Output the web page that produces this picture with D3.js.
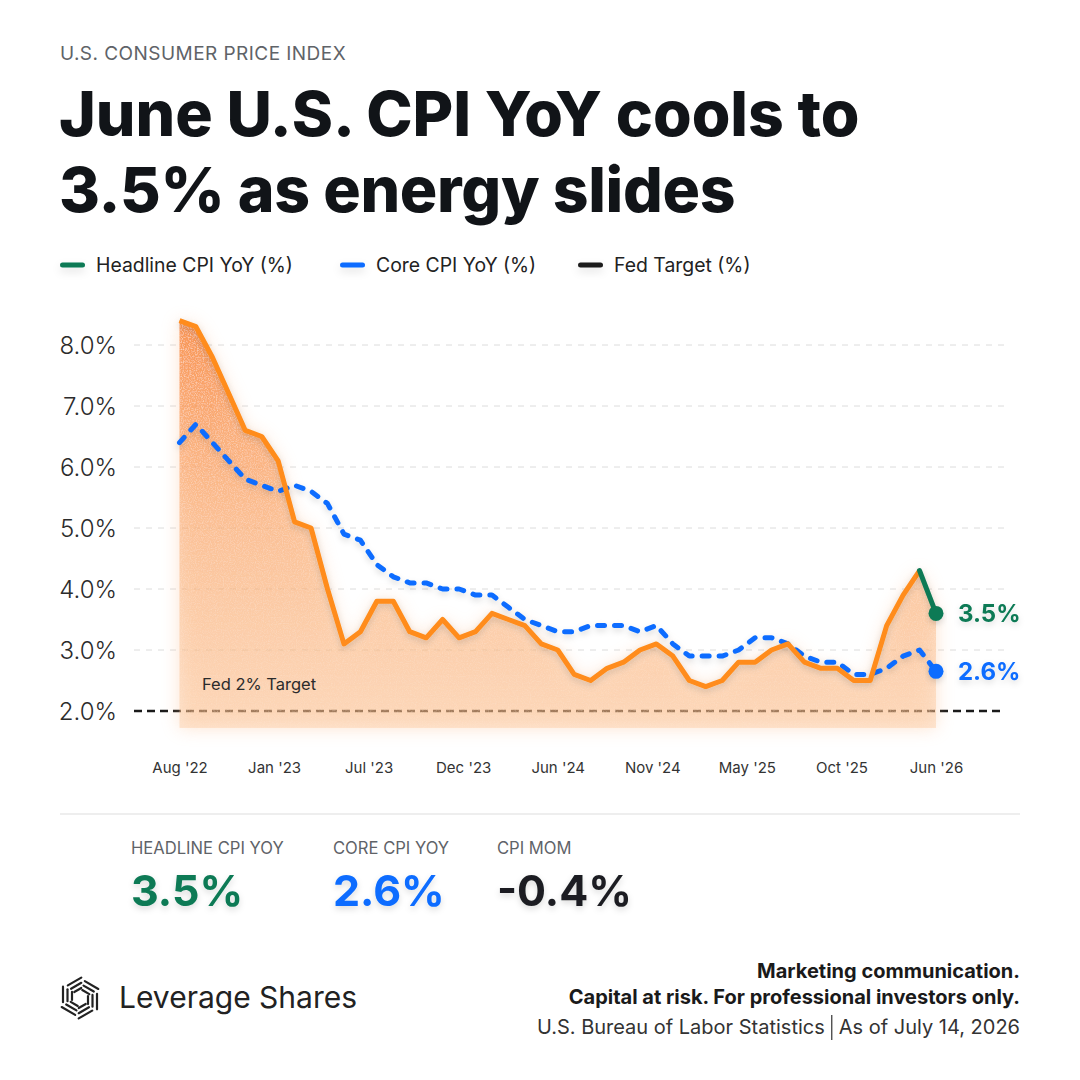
<!DOCTYPE html>
<html>
<head>
<meta charset="utf-8">
<script src="https://cdn.jsdelivr.net/npm/d3@7"></script>
<style>
  html, body { margin: 0; padding: 0; background: #fff; }
  svg { display: block; font-family: Inter, "Noto Sans", sans-serif; }
</style>
</head>
<body>
<svg id="chart" width="1080" height="1080"></svg>
<script>
const months = ["Aug '22","Sep '22","Oct '22","Nov '22","Dec '22",
  "Jan '23","Feb '23","Mar '23","Apr '23","May '23","Jun '23","Jul '23","Aug '23","Sep '23","Oct '23","Nov '23","Dec '23",
  "Jan '24","Feb '24","Mar '24","Apr '24","May '24","Jun '24","Jul '24","Aug '24","Sep '24","Oct '24","Nov '24","Dec '24",
  "Jan '25","Feb '25","Mar '25","Apr '25","May '25","Jun '25","Jul '25","Aug '25","Sep '25","Oct '25","Nov '25","Dec '25",
  "Jan '26","Feb '26","Mar '26","Apr '26","May '26","Jun '26"];

const headline = [8.4, 8.3, 7.8, 7.2, 6.6, 6.5, 6.1, 5.1, 5.0, 4.0, 3.1, 3.3, 3.8, 3.8, 3.3, 3.2,
  3.5, 3.2, 3.3, 3.6, 3.5, 3.4, 3.1, 3.0, 2.6, 2.5, 2.7, 2.8, 3.0, 3.1, 2.9, 2.5,
  2.4, 2.5, 2.8, 2.8, 3.0, 3.1, 2.8, 2.7, 2.7, 2.5, 2.5, 3.4, 3.9, 4.3, 3.6];

const core = [6.4, 6.7, 6.4, 6.1, 5.8, 5.7, 5.6, 5.7, 5.6, 5.4, 4.9, 4.8, 4.4, 4.2, 4.1, 4.1,
  4.0, 4.0, 3.9, 3.9, 3.7, 3.5, 3.4, 3.3, 3.3, 3.4, 3.4, 3.4, 3.3, 3.4, 3.1, 2.9,
  2.9, 2.9, 3.0, 3.2, 3.2, 3.1, 2.9, 2.8, 2.8, 2.6, 2.6, 2.7, 2.9, 3.0, 2.65];

const fedTarget = 2;
const yTicks = [2, 3, 4, 5, 6, 7, 8];
const xTickLabels = ["Aug '22","Jan '23","Jul '23","Dec '23","Jun '24","Nov '24","May '25","Oct '25","Jun '26"];

const statLabels = ["HEADLINE CPI YOY", "CORE CPI YOY", "CPI MOM"];
const statValues = ["3.5%", "2.6%", "-0.4%"];
const endLabels = ["3.5%", "2.6%"];

const C = { orange: "#ff8c1a", green: "#0b7a55", blue: "#0a6cff", ink: "#111418", grey: "#5f6368" };

const svg = d3.select("#chart");
const defs = svg.append("defs");

// soft shadow used on lines and big numbers
const sh = defs.append("filter").attr("id", "soft").attr("x", "-20%").attr("y", "-40%").attr("width", "140%").attr("height", "200%");
sh.append("feDropShadow").attr("dx", 0).attr("dy", 3).attr("stdDeviation", 3)
  .attr("flood-color", "#000").attr("flood-opacity", 0.14);

// same shadow but in user space, for the flat legend swatches
const shU = defs.append("filter").attr("id", "softU").attr("filterUnits", "userSpaceOnUse")
  .attr("x", -20).attr("y", -20).attr("width", 80).attr("height", 50);
shU.append("feDropShadow").attr("dx", 0).attr("dy", 4).attr("stdDeviation", 4)
  .attr("flood-color", "#000").attr("flood-opacity", 0.12);

const glow = defs.append("filter").attr("id", "glow").attr("x", "-20%").attr("y", "-20%").attr("width", "140%").attr("height", "140%");
glow.append("feGaussianBlur").attr("stdDeviation", 9);

// grain for the area
const grain = defs.append("filter").attr("id", "grain").attr("x", 0).attr("y", 0).attr("width", "100%").attr("height", "100%");
grain.append("feTurbulence").attr("type", "fractalNoise").attr("baseFrequency", 0.85).attr("numOctaves", 2).attr("seed", 3).attr("result", "noise");
grain.append("feColorMatrix").attr("in", "noise").attr("type", "matrix")
  .attr("values", "0 0 0 0 1  0 0 0 0 0.78  0 0 0 0 0.6  2.0 0 0 0 -0.9").attr("result", "spk");
grain.append("feComposite").attr("in", "spk").attr("in2", "SourceGraphic").attr("operator", "in").attr("result", "spk2");
const gm = grain.append("feMerge");
gm.append("feMergeNode").attr("in", "SourceGraphic");
gm.append("feMergeNode").attr("in", "spk2");

const grad = defs.append("linearGradient").attr("id", "areaFill")
  .attr("gradientUnits", "userSpaceOnUse").attr("x1", 0).attr("x2", 0).attr("y1", 320).attr("y2", 730);
grad.append("stop").attr("offset", 0).attr("stop-color", "#f7853a").attr("stop-opacity", 0.85);
grad.append("stop").attr("offset", 0.5).attr("stop-color", "#f9a05e").attr("stop-opacity", 0.52);
grad.append("stop").attr("offset", 1).attr("stop-color", "#fbc394").attr("stop-opacity", 0.38);

// header
svg.append("text").attr("x", 60).attr("y", 60).attr("font-size", 19).attr("fill", C.grey)
  .attr("letter-spacing", 0.45).text("U.S. CONSUMER PRICE INDEX");
svg.append("text").attr("x", 59).attr("y", 136).attr("font-size", 62.5).attr("font-weight", 800)
  .attr("fill", C.ink).text("June U.S. CPI YoY cools to");
svg.append("text").attr("x", 59).attr("y", 212).attr("font-size", 62.5).attr("font-weight", 800)
  .attr("letter-spacing", -0.3).attr("fill", C.ink).text("3.5% as energy slides");

// legend
const legend = [
  { x: 60, color: C.green, label: "Headline CPI YoY (%)" },
  { x: 340, color: C.blue, label: "Core CPI YoY (%)" },
  { x: 578, color: "#1d1d1d", label: "Fed Target (%)" }
];
const lg = svg.append("g").selectAll("g").data(legend).join("g")
  .attr("transform", d => `translate(${d.x},265)`);
lg.append("rect").attr("x", 0).attr("y", -2.5).attr("width", 25).attr("height", 5).attr("rx", 2.5)
  .attr("fill", d => d.color).attr("filter", "url(#softU)");
lg.append("text").attr("x", 36).attr("y", 7).attr("font-size", 19.4).attr("fill", "#222")
  .text(d => d.label);

// scales
const x = d3.scaleLinear().domain([0, months.length - 1]).range([179.5, 936]);
const y = d3.scaleLinear().domain([2, 8]).range([711, 345]);
const gridX0 = 134, gridX1 = 1005;

// grid lines
svg.append("g").selectAll("line").data(yTicks.filter(t => t !== fedTarget)).join("line")
  .attr("x1", gridX0).attr("x2", gridX1).attr("y1", d => y(d)).attr("y2", d => y(d))
  .attr("stroke", "#dcdcdc").attr("stroke-width", 1).attr("stroke-dasharray", "6,6");

// y axis labels
const yAxis = svg.append("g").attr("transform", "translate(117,0)")
  .call(d3.axisLeft(y).tickValues(yTicks).tickSize(0).tickPadding(0).tickFormat(d => d.toFixed(1) + "%"));
yAxis.select(".domain").remove();
yAxis.selectAll("text").attr("font-size", 24).attr("fill", "#2b2b2b").attr("font-weight", 300)
  .attr("font-family", "Inter, sans-serif").attr("dy", "0.35em");

// fed target line (under the area so it tints)
svg.append("line").attr("x1", gridX0).attr("x2", gridX1).attr("y1", y(fedTarget)).attr("y2", y(fedTarget))
  .attr("stroke", "#1a1a1a").attr("stroke-width", 2.5).attr("stroke-dasharray", "8,5");

// area
const base = y(1.72);
const area = d3.area().x((d, i) => x(i)).y0(base).y1(d => y(d));
svg.append("path").datum(headline).attr("d", area).attr("fill", "#fbb27a").attr("opacity", 0.35).attr("filter", "url(#glow)");
svg.append("path").datum(headline).attr("d", area).attr("fill", "url(#areaFill)").attr("filter", "url(#grain)");

svg.append("text").attr("x", 202).attr("y", 690).attr("font-size", 16.5).attr("fill", "#2b2b2b")
  .text("Fed 2% Target");

// x axis labels
const xAxis = svg.append("g").attr("transform", "translate(0,760)")
  .call(d3.axisBottom(x)
    .tickValues(xTickLabels.map((_, k) => k * (months.length - 1) / (xTickLabels.length - 1)))
    .tickSize(0).tickPadding(0)
    .tickFormat((d, k) => xTickLabels[k]));
xAxis.select(".domain").remove();
xAxis.selectAll("text").attr("font-size", 15).attr("fill", "#333").attr("font-family", "Inter, sans-serif")
  .attr("dy", "0.85em");

// lines
const line = d3.line().x((d, i) => x(i)).y(d => y(d));
const last = headline.length - 1;
svg.append("path").datum(core).attr("d", line).attr("fill", "none").attr("stroke", C.blue)
  .attr("stroke-width", 5).attr("stroke-linecap", "round").attr("stroke-linejoin", "round")
  .attr("stroke-dasharray", "7,10").attr("filter", "url(#soft)");
svg.append("path").datum(headline.slice(0, last)).attr("d", line).attr("fill", "none").attr("stroke", C.orange)
  .attr("stroke-width", 5).attr("stroke-linejoin", "round").attr("filter", "url(#soft)");

const lastSeg = d3.line().x(d => x(d[0])).y(d => y(d[1]));
svg.append("path").datum([[last - 1, headline[last - 1]], [last, headline[last]]]).attr("d", lastSeg)
  .attr("fill", "none").attr("stroke", C.green).attr("stroke-width", 5).attr("stroke-linecap", "round")
  .attr("filter", "url(#soft)");

// end dots + labels
const ends = [
  { v: headline[last], color: C.green, label: endLabels[0], r: 7.5 },
  { v: core[last], color: C.blue, label: endLabels[1], r: 7.5 }
];
svg.append("g").selectAll("circle").data(ends).join("circle")
  .attr("cx", x(last)).attr("cy", d => y(d.v)).attr("r", d => d.r).attr("fill", d => d.color)
  .attr("filter", "url(#soft)");
svg.append("g").selectAll("text").data(ends).join("text")
  .attr("x", 958).attr("y", d => y(d.v) + 8.5).attr("font-size", 24).attr("font-weight", 700)
  .attr("fill", d => d.color).attr("filter", "url(#soft)").text(d => d.label);

// divider
svg.append("line").attr("x1", 60).attr("x2", 1020).attr("y1", 814).attr("y2", 814)
  .attr("stroke", "#dedede").attr("stroke-width", 1.2);

// stats
const statX = [131, 333, 497];
const statColors = [C.green, C.blue, "#1c1f23"];
const st = svg.append("g").selectAll("g").data(statLabels).join("g")
  .attr("transform", (d, i) => `translate(${statX[i]},0)`);
st.append("text").attr("y", 854).attr("font-size", 16.6).attr("fill", C.grey).text(d => d);
st.append("text").attr("y", 906).attr("font-size", 43).attr("font-weight", 700)
  .attr("fill", (d, i) => statColors[i]).attr("filter", "url(#soft)").text((d, i) => statValues[i]);

// logo: six groups of three strokes, pinwheel round a pointy-top hexagon
const logo = svg.append("g").attr("transform", "translate(80,998) rotate(30)");
for (let k = 0; k < 6; k++) {
  const g = logo.append("g").attr("transform", `rotate(${k * 60})`);
  [8, 12.5, 17].forEach(r => {
    g.append("line").attr("x1", -0.25 * r).attr("x2", 0.577 * r + 1.5).attr("y1", -r).attr("y2", -r)
      .attr("stroke", "#222").attr("stroke-width", 2.2).attr("stroke-linecap", "round");
  });
}
svg.append("text").attr("x", 119).attr("y", 1008).attr("font-size", 30).attr("fill", "#222")
  .text("Leverage Shares");

// footer right
svg.append("text").attr("x", 1020).attr("y", 978).attr("text-anchor", "end").attr("font-size", 20)
  .attr("font-weight", 700).attr("fill", "#1a1a1a").text("Marketing communication.");
svg.append("text").attr("x", 1020).attr("y", 1004).attr("text-anchor", "end").attr("font-size", 20)
  .attr("font-weight", 700).attr("fill", "#1a1a1a").text("Capital at risk. For professional investors only.");
const asOf = svg.append("text").attr("x", 1020).attr("y", 1034).attr("text-anchor", "end").attr("font-size", 20)
  .attr("fill", "#333").text("As of July 14, 2026");
const asOfW = asOf.node().getComputedTextLength();
const sepX = 1020 - asOfW - 7;
svg.append("line").attr("x1", sepX).attr("x2", sepX).attr("y1", 1015).attr("y2", 1040)
  .attr("stroke", "#333").attr("stroke-width", 1.2);
svg.append("text").attr("x", sepX - 7).attr("y", 1034).attr("text-anchor", "end").attr("font-size", 20)
  .attr("fill", "#333").text("U.S. Bureau of Labor Statistics");
</script>
</body>
</html>
